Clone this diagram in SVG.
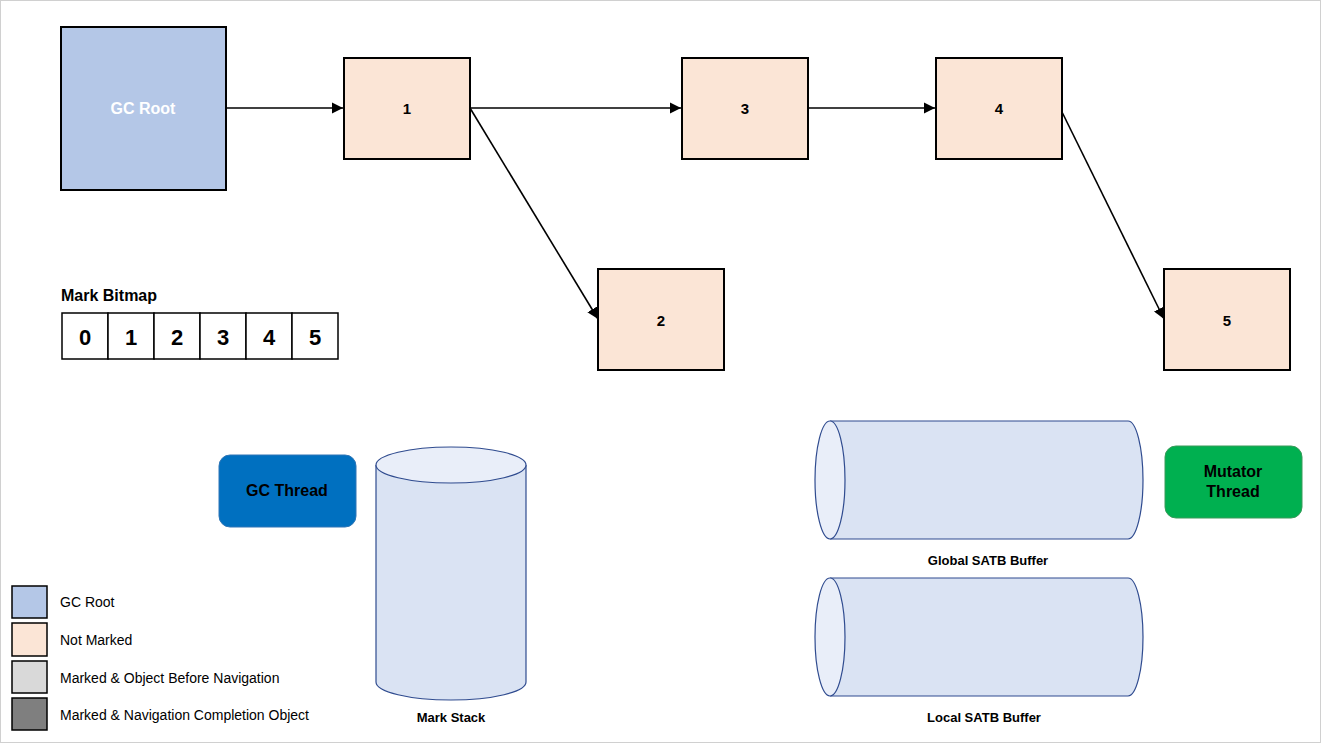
<svg xmlns="http://www.w3.org/2000/svg" width="1321" height="744" viewBox="0 0 1321 744">
<defs>
<style>
text{font-family:"Liberation Sans",Arial,sans-serif;font-weight:bold;fill:#000;text-anchor:middle;dominant-baseline:central}
.obj{fill:#fbe5d6;stroke:#000;stroke-width:2}
.bit{fill:#fff;stroke:#000;stroke-width:1.5}
.bt{font-size:22px}
.cyl{fill:#dae3f3;stroke:#2f4b8f;stroke-width:1.2}
.cap{fill:#e9eef9;stroke:#2f4b8f;stroke-width:1.2}
.lg{stroke:#000;stroke-width:1.5}
.lt{font-size:14px;font-weight:normal;text-anchor:start}
.con{stroke:#000;stroke-width:1.6;fill:none;marker-end:url(#ah)}
</style>
<marker id="ah" viewBox="0 0 10 10" refX="10" refY="5" markerWidth="7" markerHeight="7" orient="auto"><path d="M0,0L10,5L0,10z" fill="#000"/></marker>
</defs>
<rect x="0.5" y="0.5" width="1320" height="742" fill="#fff" stroke="#d0d0d0"/>
<g id="gcroot"><rect x="61" y="27" width="165" height="163" fill="#b4c7e7" stroke="#000" stroke-width="2"/><text x="143" y="108" style="fill:#fff;font-size:16px">GC Root</text></g>
<g id="n1"><rect class="obj" x="344" y="58" width="126" height="101"/><text x="407" y="108" font-size="15">1</text></g>
<g id="n3"><rect class="obj" x="682" y="58" width="126" height="101"/><text x="745" y="108" font-size="15">3</text></g>
<g id="n4"><rect class="obj" x="936" y="58" width="126" height="101"/><text x="999" y="108" font-size="15">4</text></g>
<g id="n2"><rect class="obj" x="598" y="269" width="126" height="101"/><text x="661" y="320" font-size="15">2</text></g>
<g id="n5"><rect class="obj" x="1164" y="269" width="126" height="101"/><text x="1227" y="320" font-size="15">5</text></g>
<g id="connectors">
<line class="con" x1="226" y1="108" x2="343" y2="108"/>
<line class="con" x1="470" y1="108" x2="681" y2="108"/>
<line class="con" x1="808" y1="108" x2="935" y2="108"/>
<line class="con" x1="470" y1="108" x2="598" y2="319"/>
<line class="con" x1="1062" y1="112" x2="1164" y2="319"/>
</g>
<g id="bitmap">
<text x="61" y="295" font-size="16" style="text-anchor:start">Mark Bitmap</text>
<rect class="bit" x="62" y="313" width="46" height="46"/><text class="bt" x="85" y="337">0</text>
<rect class="bit" x="108" y="313" width="46" height="46"/><text class="bt" x="131" y="337">1</text>
<rect class="bit" x="154" y="313" width="46" height="46"/><text class="bt" x="177" y="337">2</text>
<rect class="bit" x="200" y="313" width="46" height="46"/><text class="bt" x="223" y="337">3</text>
<rect class="bit" x="246" y="313" width="46" height="46"/><text class="bt" x="269" y="337">4</text>
<rect class="bit" x="292" y="313" width="46" height="46"/><text class="bt" x="315" y="337">5</text>
</g>
<g id="gcthread"><rect x="219" y="455" width="137" height="72" rx="11" fill="#0070c0" stroke="#2e75b6"/><text x="287" y="490" font-size="16">GC Thread</text></g>
<g id="markstack">
<path class="cyl" d="M376,465V682A75,18 0 0 0 526,682V465"/>
<ellipse class="cap" cx="451" cy="465" rx="75" ry="18"/>
<text x="451" y="717" font-size="13">Mark Stack</text>
</g>
<g id="global">
<path class="cyl" d="M830,421H1128A15,59 0 0 1 1128,539H830"/>
<ellipse class="cap" cx="830" cy="480" rx="15" ry="59"/>
<text x="988" y="560" font-size="13">Global SATB Buffer</text>
</g>
<g id="local">
<path class="cyl" d="M830,578H1128A15,59 0 0 1 1128,696H830"/>
<ellipse class="cap" cx="830" cy="637" rx="15" ry="59"/>
<text x="984" y="717" font-size="13">Local SATB Buffer</text>
</g>
<g id="mutator"><rect x="1165" y="446" width="137" height="72" rx="11" fill="#00b050" stroke="#3a9a5a"/><text x="1233" y="471" font-size="16">Mutator</text><text x="1233" y="491" font-size="16">Thread</text></g>
<g id="legend">
<rect class="lg" x="12" y="586" width="35" height="32" fill="#b4c7e7"/><text class="lt" x="60" y="602">GC Root</text>
<rect class="lg" x="12" y="623" width="35" height="33" fill="#fbe5d6"/><text class="lt" x="60" y="640">Not Marked</text>
<rect class="lg" x="12" y="661" width="35" height="32" fill="#d9d9d9"/><text class="lt" x="60" y="678">Marked &amp; Object Before Navigation</text>
<rect class="lg" x="12" y="698" width="35" height="32" fill="#7f7f7f"/><text class="lt" x="60" y="715">Marked &amp; Navigation Completion Object</text>
</g>
</svg>
